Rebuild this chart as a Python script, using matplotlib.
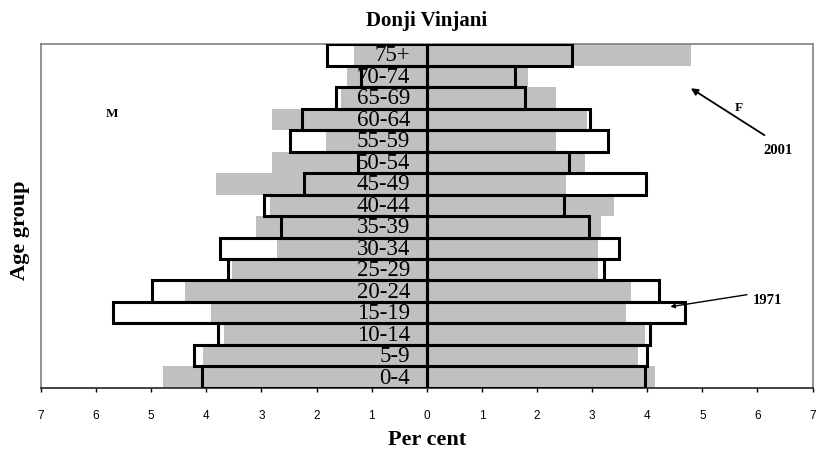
import matplotlib.pyplot as plt
import numpy as np

# Age groups, bottom to top
age_groups = ['0-4', '5-9', '10-14', '15-19', '20-24', '25-29', '30-34', '35-39',
              '40-44', '45-49', '50-54', '55-59', '60-64', '65-69', '70-74', '75+']

# Per cent of population (2001 = grey bars, 1971 = outlined bars)
male_2001 = [4.79, 4.06, 3.67, 3.92, 4.39, 3.54, 2.72, 3.09,
             2.85, 3.82, 2.80, 1.83, 2.80, 1.55, 1.45, 1.32]
female_2001 = [4.14, 3.83, 3.96, 3.61, 3.70, 3.11, 3.11, 3.17,
               3.39, 2.53, 2.87, 2.35, 2.90, 2.35, 1.84, 4.79]
male_1971 = [4.08, 4.23, 3.79, 5.70, 4.99, 3.61, 3.76, 2.65,
             2.96, 2.23, 1.25, 2.49, 2.27, 1.65, 1.20, 1.81]
female_1971 = [3.96, 3.99, 4.05, 4.68, 4.21, 3.22, 3.49, 2.95,
               2.49, 3.97, 2.58, 3.28, 2.96, 1.79, 1.60, 2.63]

tick_values = list(range(-7, 8))
tick_labels = [str(abs(t)) for t in tick_values]

SERIF = ['Liberation Serif', 'DejaVu Serif']
SANS = ['Liberation Sans', 'DejaVu Sans']
GREY = '#C0C0C0'

fig = plt.figure(figsize=(8.18, 4.52), dpi=100)
ax = fig.add_axes([0.0501, 0.1394, 0.9432, 0.761])

y = np.arange(len(age_groups))
m71 = -np.array(male_1971)
f71 = np.array(female_1971)
m01 = -np.array(male_2001)
f01 = np.array(female_2001)

# white fill of the 1971 boxes underneath, grey 2001 bars, then 1971 outlines on top
ax.barh(y, m71, height=1.0, color='white', edgecolor='none', zorder=1)
ax.barh(y, f71, height=1.0, color='white', edgecolor='none', zorder=1)
ax.barh(y, m01, height=1.0, color=GREY, edgecolor='none', zorder=2)
ax.barh(y, f01, height=1.0, color=GREY, edgecolor='none', zorder=2)
ax.barh(y, m71, height=1.0, fill=False, edgecolor='black', linewidth=2.2, zorder=4)
ax.barh(y, f71, height=1.0, fill=False, edgecolor='black', linewidth=2.2, zorder=4)

for yi, lab in zip(y, age_groups):
    ax.text(-0.3, yi, lab, ha='right', va='center', fontsize=16.5,
            family=SERIF, zorder=3)

ax.set_xlim(-7, 7)
ax.set_ylim(-0.5, len(age_groups) - 0.5)
ax.set_xticks(tick_values)
ax.set_xticklabels(tick_labels, family=SANS, fontsize=8.5)
ax.set_yticks([])
ax.tick_params(axis='x', direction='out', length=3, width=1, pad=12)

for side in ['left', 'top', 'right']:
    ax.spines[side].set_color('#808080')
    ax.spines[side].set_linewidth(1.2)
ax.spines['bottom'].set_color('#222222')
ax.spines['bottom'].set_linewidth(1.2)

ax.set_title('Donji Vinjani', family=SERIF, fontsize=15, fontweight='bold', pad=14)
ax.set_xlabel('Per cent', family=SERIF, fontsize=16, fontweight='bold', labelpad=6)
fig.text(0.025, 0.49, 'Age group', rotation=90, ha='center', va='center',
         family=SERIF, fontsize=16, fontweight='bold')

# annotations
ax.text(-5.72, 12.30, 'M', ha='center', va='center', family=SERIF, fontsize=9.5, fontweight='bold')
ax.text(5.66, 12.58, 'F', ha='center', va='center', family=SERIF, fontsize=9.5, fontweight='bold')
ax.text(6.37, 10.59, '2001', ha='center', va='center', family=SERIF, fontsize=10.5, fontweight='bold')
ax.annotate('', xy=(4.75, 13.51), xytext=(6.17, 11.19),
            arrowprops=dict(arrowstyle='-|>', color='black', lw=1.3, mutation_scale=10))
ax.text(6.19, 3.63, '1971', ha='center', va='center', family=SERIF, fontsize=10.5, fontweight='bold')
ax.annotate('', xy=(4.37, 3.26), xytext=(5.86, 3.86),
            arrowprops=dict(arrowstyle='-|>', color='black', lw=1.0, mutation_scale=6),
            zorder=5)

fig.savefig('out.png', dpi=100)
